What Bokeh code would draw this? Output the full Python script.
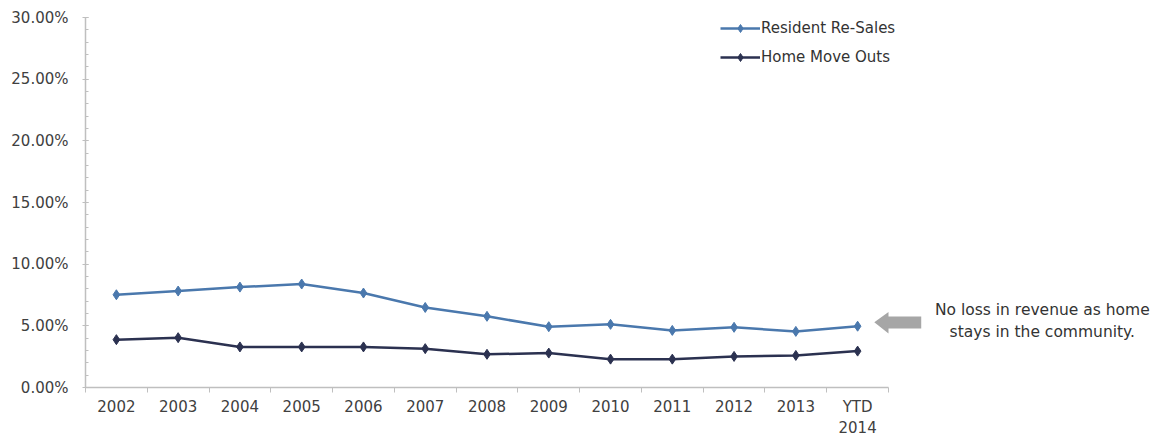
from bokeh.plotting import figure
from bokeh.models import (Range1d, FixedTicker, Legend, LegendItem, Label,
                          PolyAnnotation)
from bokeh.embed import file_html
from bokeh.resources import INLINE

years = ["2002", "2003", "2004", "2005", "2006", "2007", "2008", "2009",
         "2010", "2011", "2012", "2013", "YTD\n2014"]
resident_resales = [7.52, 7.82, 8.14, 8.39, 7.66, 6.49, 5.77, 4.93, 5.12,
                    4.63, 4.88, 4.55, 4.97]
home_move_outs = [3.88, 4.04, 3.29, 3.29, 3.29, 3.15, 2.69, 2.79, 2.30,
                  2.30, 2.52, 2.60, 2.95]
y_ticks = [0, 5, 10, 15, 20, 25, 30]
y_tick_labels = ["0.00%", "5.00%", "10.00%", "15.00%", "20.00%", "25.00%",
                 "30.00%"]
note_lines = ["No loss in revenue as home", "stays in the community."]

FONT = "DejaVu Sans"
n = len(years)
x = list(range(n))

# frame spans to the right edge so the side note can sit inside it;
# the x axis itself is bounded to the categories
p = figure(width=1157, height=440, output_backend="svg", toolbar_location=None,
           x_range=Range1d(-0.5, 16.855), y_range=Range1d(0, 30),
           min_border_left=85, min_border_right=0, min_border_top=17,
           min_border_bottom=40)
p.outline_line_color = None
p.xgrid.visible = False
p.ygrid.visible = False
p.background_fill_color = "white"
p.border_fill_color = "white"

p.xaxis.bounds = (-0.5, n - 0.5)
p.xaxis.ticker = FixedTicker(ticks=x,
                             minor_ticks=[i - 0.5 for i in range(n + 1)])
p.xaxis.major_label_overrides = {i: t for i, t in enumerate(years)}
p.xaxis.major_tick_line_color = None
p.xaxis.major_tick_out = 0
p.xaxis.major_tick_in = 0
p.xaxis.minor_tick_line_color = "#bfbfbf"
p.xaxis.minor_tick_out = 5
p.xaxis.minor_tick_in = 0
p.xaxis.axis_line_color = "#bfbfbf"
p.xaxis.axis_line_width = 1.5
p.xaxis.major_label_standoff = 5
p.xaxis.major_label_text_font = FONT
p.xaxis.major_label_text_font_size = "15px"
p.xaxis.major_label_text_color = "#404040"

p.yaxis.ticker = FixedTicker(ticks=y_ticks, minor_ticks=list(range(0, 31)))
p.yaxis.major_label_overrides = dict(zip(y_ticks, y_tick_labels))
p.yaxis.axis_line_color = "#bfbfbf"
p.yaxis.axis_line_width = 1.5
p.yaxis.major_tick_line_color = "#bfbfbf"
p.yaxis.minor_tick_line_color = "#bfbfbf"
p.yaxis.major_tick_in = 3
p.yaxis.major_tick_out = 3
p.yaxis.minor_tick_in = 3
p.yaxis.minor_tick_out = 0
p.yaxis.major_label_standoff = 14
p.yaxis.major_label_text_font = FONT
p.yaxis.major_label_text_font_size = "15px"
p.yaxis.major_label_text_color = "#404040"

c1 = "#4a78ad"
c2 = "#2b3150"
l1 = p.line(x, resident_resales, line_color=c1, line_width=2.5)
m1 = p.scatter(x, resident_resales, marker="diamond", size=10,
               fill_color=c1, line_color=c1)
l2 = p.line(x, home_move_outs, line_color=c2, line_width=2.5)
m2 = p.scatter(x, home_move_outs, marker="diamond", size=10,
               fill_color=c2, line_color=c2)

legend = Legend(items=[LegendItem(label="Resident Re-Sales", renderers=[l1, m1]),
                       LegendItem(label="Home Move Outs", renderers=[l2, m2])],
                location=(635, 320), orientation="vertical",
                glyph_width=40, glyph_height=20, label_height=20,
                label_width=150,
                spacing=9, padding=0, margin=0, label_standoff=1,
                label_text_font=FONT, label_text_font_size="15px",
                label_text_color="#333333", border_line_color=None,
                background_fill_alpha=0)
p.add_layout(legend)

# block arrow pointing at the last point
arrow = PolyAnnotation(xs=[12.27, 12.5, 12.5, 13.03, 13.03, 12.5, 12.5],
                       ys=[5.29, 6.12, 5.76, 5.76, 4.78, 4.78, 4.38],
                       fill_color="#a6a6a6", fill_alpha=1, line_color=None)
p.add_layout(arrow)

for t, yy in zip(note_lines, [6.32, 4.46]):
    p.add_layout(Label(x=14.99, y=yy, text=t, text_align="center",
                       text_baseline="middle", text_font=FONT,
                       text_font_size="15.5px", text_color="#333333"))

open("out.html", "w").write(file_html(p, INLINE))
